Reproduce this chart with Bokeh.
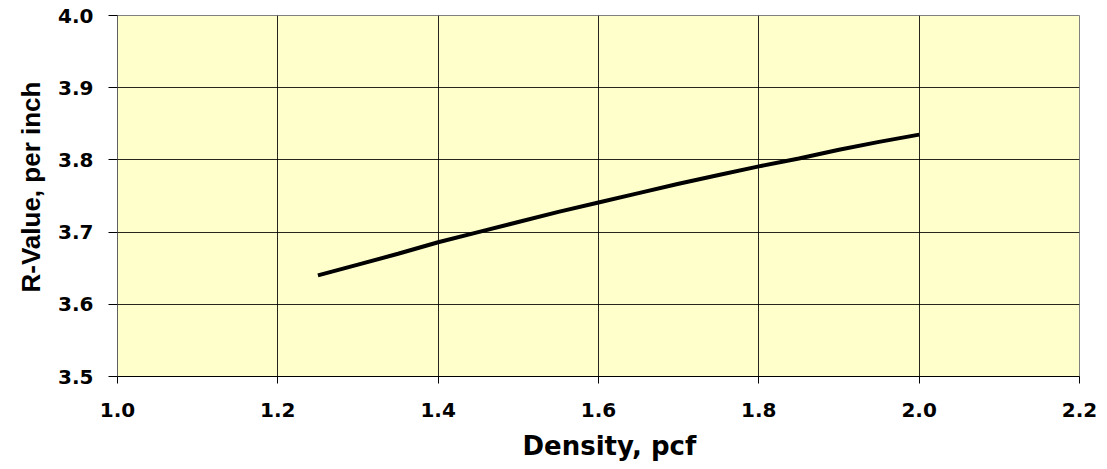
from bokeh.plotting import figure
from bokeh.models import Range1d, FixedTicker, PrintfTickFormatter, Title
from bokeh.embed import file_html
from bokeh.resources import INLINE

density = [1.25, 1.30, 1.35, 1.40, 1.45, 1.50, 1.55, 1.60, 1.65, 1.70, 1.75, 1.80, 1.85, 1.90, 1.95, 2.00]
r_value = [3.640, 3.655, 3.670, 3.686, 3.700, 3.714, 3.728, 3.741, 3.754, 3.767, 3.779, 3.791, 3.802, 3.814, 3.825, 3.835]
x_ticks = [1.0, 1.2, 1.4, 1.6, 1.8, 2.0, 2.2]
y_ticks = [3.5, 3.6, 3.7, 3.8, 3.9, 4.0]
x_title = "Density, pcf"
y_title = "R-Value, per inch"

p = figure(width=1107, height=469, output_backend="svg", toolbar_location=None,
           x_range=Range1d(1.0, 2.2), y_range=Range1d(3.5, 4.0),
           min_border_left=117, min_border_right=28, min_border_top=15, min_border_bottom=92)
p.border_fill_color = "white"
p.background_fill_color = "#FFFFCC"
p.outline_line_color = "#808080"
p.outline_line_width = 1

p.line(density, r_value, line_color="black", line_width=4)

tick_font = "DejaVu Sans"
p.xaxis.ticker = FixedTicker(ticks=x_ticks)
p.yaxis.ticker = FixedTicker(ticks=y_ticks)
for ax in (p.xaxis, p.yaxis):
    ax.formatter = PrintfTickFormatter(format="%.1f")
    ax.major_label_text_font = tick_font
    ax.major_label_text_font_style = "bold"
    ax.major_label_text_font_size = "20px"
    ax.major_label_text_color = "black"
    ax.minor_tick_line_color = None
    ax.major_tick_in = 0
    ax.major_tick_line_color = "black"
p.xaxis.major_tick_out = 7
p.yaxis.major_tick_out = 9
p.xaxis.axis_line_color = "black"
p.yaxis.axis_line_color = "#606060"
p.xaxis.major_label_standoff = 19
p.yaxis.major_label_standoff = 15

p.grid.grid_line_color = "black"
p.grid.grid_line_width = 1
p.grid.grid_line_alpha = 0.85

xt = Title(text=x_title, align="left", offset=405, standoff=18,
           text_font="DejaVu Sans", text_font_style="bold", text_font_size="26px",
           text_color="black")
p.add_layout(xt, "below")
yt = Title(text=y_title, align="left", offset=84, standoff=19,
           text_font="Liberation Sans", text_font_style="bold", text_font_size="26px",
           text_color="black")
p.add_layout(yt, "left")

open("out.html", "w").write(file_html(p, INLINE))
